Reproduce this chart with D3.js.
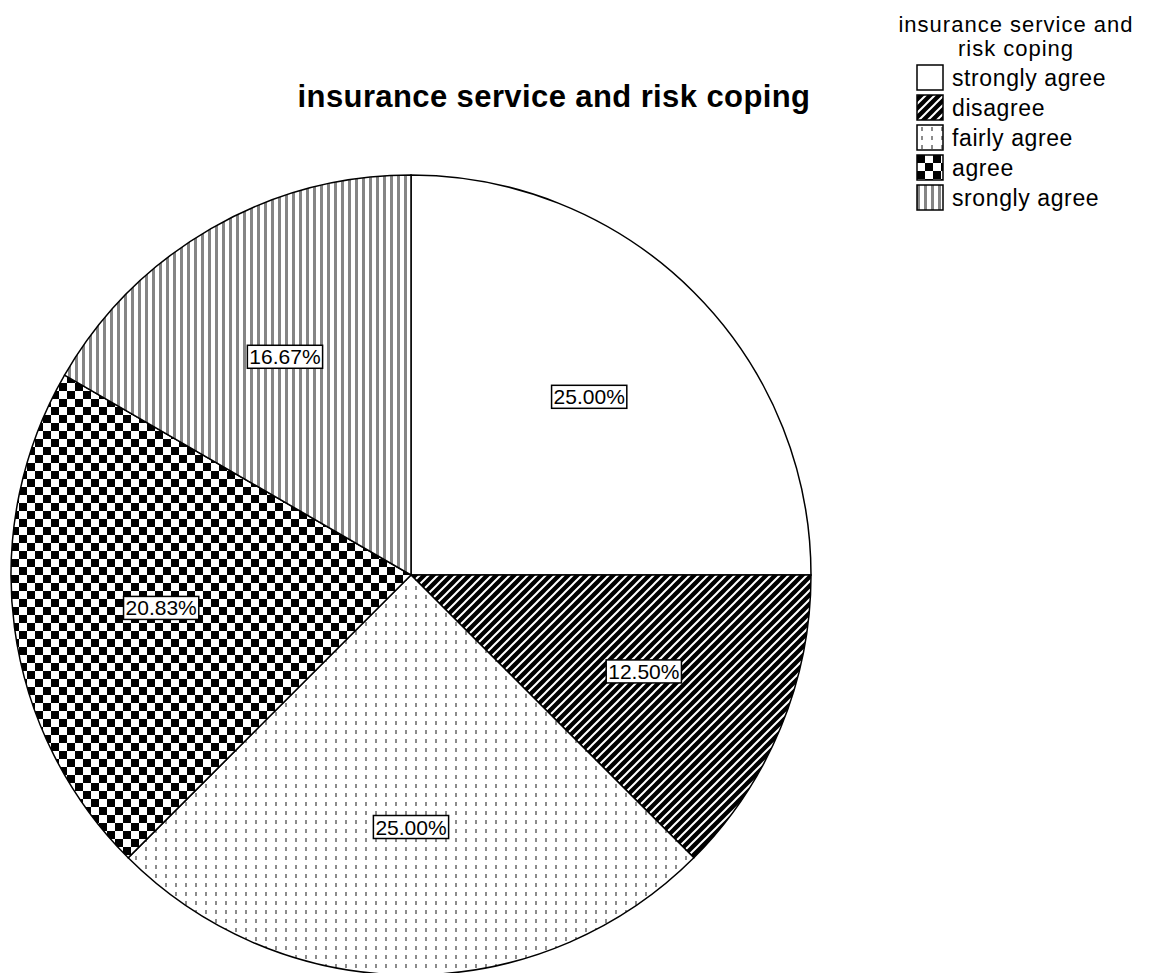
<!DOCTYPE html>
<html>
<head>
<meta charset="utf-8">
<script src="https://cdn.jsdelivr.net/npm/d3@7"></script>
<style>
	body { margin: 0; background: #fff; }
	text { font-family: "Liberation Sans", Arial, sans-serif; }
</style>
</head>
<body>
<div id="chart"></div>
<script>
// data
let chart_title = "insurance service and risk coping";
let legend_title = ["insurance service and", "risk coping"];
let categories = ["strongly agree", "disagree", "fairly agree", "agree", "srongly agree"];
let percents = [25.00, 12.50, 25.00, 20.83, 16.67];
let fills = ["url(#p_blank)", "url(#p_diag)", "url(#p_dots)", "url(#p_check)", "url(#p_vert)"];

let width = 1158;
let height = 973;
let cx = 411;
let cy = 575;
let radius = 400;

let svg = d3.select("#chart").append("svg")
	.attr("width", width)
	.attr("height", height);

// Fill patterns
let defs = svg.append("defs");

defs.append("pattern")
	.attr("id", "p_blank")
	.attr("patternUnits", "userSpaceOnUse")
	.attr("width", 10).attr("height", 10)
	.append("rect")
	.attr("width", 10).attr("height", 10)
	.attr("fill", "#fff");

let diag = defs.append("pattern")
	.attr("id", "p_diag")
	.attr("patternUnits", "userSpaceOnUse")
	.attr("width", 9).attr("height", 9);
diag.append("rect").attr("width", 9).attr("height", 9).attr("fill", "#000");
diag.append("path")
	.attr("d", "M-2,2 L2,-2 M0,9 L9,0 M7,11 L11,7")
	.attr("stroke", "#fff")
	.attr("stroke-width", 2);

let dots = defs.append("pattern")
	.attr("id", "p_dots")
	.attr("patternUnits", "userSpaceOnUse")
	.attr("width", 10).attr("height", 9);
dots.append("rect").attr("width", 10).attr("height", 9).attr("fill", "#fff");
dots.append("rect")
	.attr("x", 4).attr("y", 2)
	.attr("width", 2).attr("height", 4)
	.attr("fill", "#8c8c8c");

let check = defs.append("pattern")
	.attr("id", "p_check")
	.attr("patternUnits", "userSpaceOnUse")
	.attr("width", 16).attr("height", 16);
check.append("rect").attr("width", 16).attr("height", 16).attr("fill", "#fff");
check.append("rect").attr("width", 8).attr("height", 8).attr("fill", "#000");
check.append("rect").attr("x", 8).attr("y", 8).attr("width", 8).attr("height", 8).attr("fill", "#000");

let vert = defs.append("pattern")
	.attr("id", "p_vert")
	.attr("patternUnits", "userSpaceOnUse")
	.attr("width", 7).attr("height", 8);
vert.append("rect").attr("width", 7).attr("height", 8).attr("fill", "#fff");
vert.append("rect").attr("width", 3).attr("height", 8).attr("fill", "#858585");

// Title
svg.append("text")
	.attr("x", 554)
	.attr("y", 107)
	.attr("text-anchor", "middle")
	.attr("font-size", 31)
	.attr("font-weight", "bold")
	.attr("letter-spacing", 0.4)
	.text(chart_title);

// Pie
let pie = d3.pie().sort(null).value(function(d) { return d; });
let arcs = pie(percents);
let arc = d3.arc().innerRadius(0).outerRadius(radius);
let label_arc = d3.arc().innerRadius(radius * 0.63).outerRadius(radius * 0.63);

let group = svg.append("g")
	.attr("transform", "translate(" + cx + "," + cy + ")");

group.selectAll(".slice").data(arcs).enter().append("path")
	.attr("class", "slice")
	.attr("d", arc)
	.attr("fill", function(d, i) { return fills[i]; })
	.attr("stroke", "#000")
	.attr("stroke-width", 1.5);

// Percent labels in boxes
let labels = group.selectAll(".lab").data(arcs).enter().append("g")
	.attr("class", "lab")
	.attr("transform", function(d) { return "translate(" + label_arc.centroid(d) + ")"; });

labels.append("text")
	.attr("text-anchor", "middle")
	.attr("dominant-baseline", "central")
	.attr("font-size", 21)
	.text(function(d) { return d.data.toFixed(2) + "%"; });

labels.each(function() {
	let g = d3.select(this);
	let bb = g.select("text").node().getBBox();
	g.insert("rect", "text")
		.attr("x", bb.x - 2)
		.attr("y", bb.y)
		.attr("width", bb.width + 4)
		.attr("height", bb.height)
		.attr("fill", "#fff")
		.attr("stroke", "#000")
		.attr("stroke-width", 1.5);
});

// Legend
let legend = svg.append("g");

legend.selectAll(".ltitle").data(legend_title).enter().append("text")
	.attr("class", "ltitle")
	.attr("x", 1016)
	.attr("y", function(d, i) { return 32 + i * 24; })
	.attr("text-anchor", "middle")
	.attr("font-size", 22)
	.attr("letter-spacing", 1)
	.text(function(d) { return d; });

let items = legend.selectAll(".item").data(categories).enter().append("g")
	.attr("class", "item")
	.attr("transform", function(d, i) { return "translate(917," + (65 + i * 30) + ")"; });

items.append("rect")
	.attr("width", 26)
	.attr("height", 25)
	.attr("fill", function(d, i) { return fills[i]; })
	.attr("stroke", "#000")
	.attr("stroke-width", 1.5);

items.append("text")
	.attr("x", 35)
	.attr("y", 21)
	.attr("font-size", 23)
	.attr("letter-spacing", 0.6)
	.text(function(d) { return d; });
</script>
</body>
</html>
